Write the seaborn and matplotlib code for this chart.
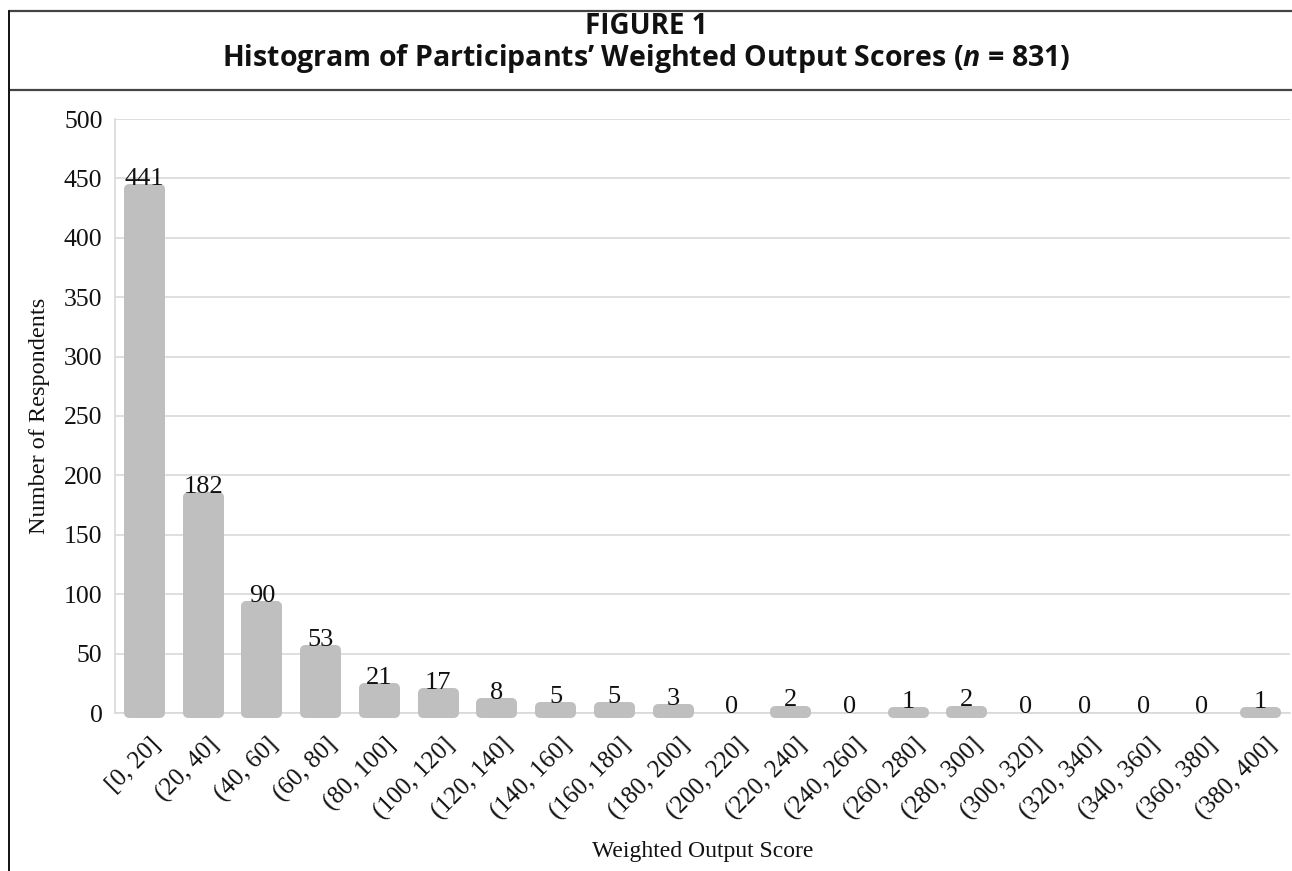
import numpy as np
import pandas as pd
import matplotlib
matplotlib.use("Agg")
import matplotlib.pyplot as plt
import matplotlib.transforms as mtransforms
from matplotlib.lines import Line2D
import seaborn as sns

# ── data ──────────────────────────────────────────────────────────────────────
BINS = ["[0, 20]", "(20, 40]", "(40, 60]", "(60, 80]", "(80, 100]",
        "(100, 120]", "(120, 140]", "(140, 160]", "(160, 180]", "(180, 200]",
        "(200, 220]", "(220, 240]", "(240, 260]", "(260, 280]", "(280, 300]",
        "(300, 320]", "(320, 340]", "(340, 360]", "(360, 380]", "(380, 400]"]
COUNTS = [441, 182, 90, 53, 21, 17, 8, 5, 5, 3, 0, 2, 0, 1, 2, 0, 0, 0, 0, 1]
Y_TICKS = list(range(0, 501, 50))

TITLE_1 = "FIGURE 1"
TITLE_2 = r"Histogram of Participants’ Weighted Output Scores ($n$ = 831)"
X_LABEL = "Weighted Output Score"
Y_LABEL = "Number of Respondents"

BAR_COLOR = "#bfbfbf"
GRID_COLOR = "#d9d9d9"
SERIF = "Liberation Serif"

sns.set_theme(style="white")
plt.rcParams["font.family"] = [SERIF, "DejaVu Serif"]
plt.rcParams["mathtext.fontset"] = "custom"
plt.rcParams["mathtext.rm"] = "Open Sans:bold"
plt.rcParams["mathtext.it"] = "Open Sans:bold:italic"

df = pd.DataFrame({"bin": BINS, "count": COUNTS})

fig = plt.figure(figsize=(12.92, 8.71), dpi=100)
ax = fig.add_axes([115 / 1292, 158 / 871, 1175 / 1292, 594 / 871])

sns.barplot(data=df, x="bin", y="count", color=BAR_COLOR, saturation=1,
            width=0.53, ax=ax, zorder=3)

# rounded Excel-like bars: thick round-joined edge in the same colour
for patch, val in zip(ax.patches, COUNTS):
    patch.set_edgecolor(BAR_COLOR)
    patch.set_linewidth(7.2 if val > 0 else 0)
    patch.set_joinstyle("round")
    patch.set_clip_on(False)

# data labels
for i, val in enumerate(COUNTS):
    off = 3.0 if val > 0 else 0
    ax.annotate(f"{val}", (i, val), xytext=(0, off), textcoords="offset points",
                ha="center", va="baseline", fontsize=19, color="#111111",
                zorder=4, annotation_clip=False)

ax.set_ylim(0, 500)
ax.set_xlim(-0.5, len(BINS) - 0.5)
ax.set_yticks(Y_TICKS)
ax.yaxis.grid(True, color=GRID_COLOR, linewidth=1.2, zorder=0)
ax.set_axisbelow(True)
for side in ["top", "right"]:
    ax.spines[side].set_visible(False)
for side in ["left", "bottom"]:
    ax.spines[side].set_color(GRID_COLOR)
    ax.spines[side].set_linewidth(1.2)

ax.tick_params(axis="both", length=0, colors="#111111")
ax.tick_params(axis="y", pad=9, labelsize=18.5)
ax.tick_params(axis="x", pad=15, labelsize=18)
shift = mtransforms.ScaledTranslation(5 / 100, 0, fig.dpi_scale_trans)
for lab in ax.get_xticklabels():
    lab.set_rotation(45)
    lab.set_ha("right")
    lab.set_va("top")
    lab.set_rotation_mode("anchor")
    lab.set_transform(lab.get_transform() + shift)

ax.set_xlabel(X_LABEL, fontsize=17, color="#111111")
ax.set_ylabel(Y_LABEL, fontsize=17.5, color="#111111")
ax.xaxis.set_label_coords(0.5, -0.216)
ax.yaxis.set_label_coords(-0.055, 0.5)

# title band
fig.text(0.5, 1 - 34 / 871, TITLE_1, ha="center", va="baseline",
         fontsize=20, fontweight="bold", family="Open Sans", color="#111111")
fig.text(0.5, 1 - 66 / 871, TITLE_2, ha="center", va="baseline",
         fontsize=20.5, fontweight="bold", family="Open Sans", color="#111111")

# frame lines
x0 = 9 / 1292
fig.add_artist(Line2D([x0, 1], [1 - 11 / 871] * 2, color="#444444", lw=1.6))
fig.add_artist(Line2D([x0, 1], [1 - 90 / 871] * 2, color="#444444", lw=1.6))
fig.add_artist(Line2D([x0, x0], [0, 1 - 11 / 871], color="#111111", lw=1.4))

fig.savefig("out.png", dpi=100)
